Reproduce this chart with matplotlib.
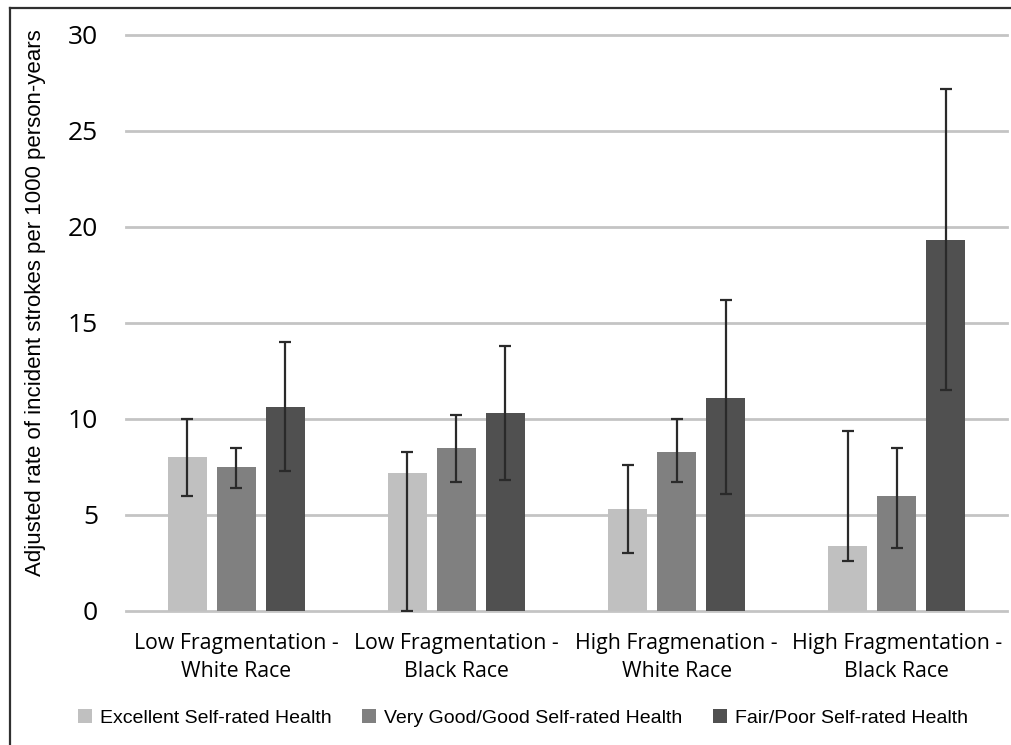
import matplotlib
matplotlib.use("Agg")
import matplotlib.pyplot as plt
from matplotlib.lines import Line2D
import numpy as np

categories = [
    "Low Fragmentation -\nWhite Race",
    "Low Fragmentation -\nBlack Race",
    "High Fragmenation -\nWhite Race",
    "High Fragmentation -\nBlack Race",
]
series_names = [
    "Excellent Self-rated Health",
    "Very Good/Good Self-rated Health",
    "Fair/Poor Self-rated Health",
]
excellent = [8.0, 7.2, 5.3, 3.4]
excellent_lo = [6.0, 0.0, 3.0, 2.6]
excellent_hi = [10.0, 8.3, 7.6, 9.4]
vgood = [7.5, 8.5, 8.3, 6.0]
vgood_lo = [6.4, 6.7, 6.7, 3.3]
vgood_hi = [8.5, 10.2, 10.0, 8.5]
fair = [10.6, 10.3, 11.1, 19.3]
fair_lo = [7.3, 6.8, 6.1, 11.5]
fair_hi = [14.0, 13.8, 16.2, 27.2]
yticks = [0, 5, 10, 15, 20, 25, 30]

colors = ["#c0c0c0", "#808080", "#505050"]
label_font = ["Open Sans", "DejaVu Sans"]
narrow_font = ["Liberation Sans Narrow", "Liberation Sans", "DejaVu Sans"]

fig = plt.figure(figsize=(10.11, 7.45), dpi=100)
ax = fig.add_axes([126 / 1011, 1 - 611 / 745, 881 / 1011, 576 / 745])

x = np.arange(len(categories))
step, width = 0.222, 0.177
data = [
    (excellent, excellent_lo, excellent_hi),
    (vgood, vgood_lo, vgood_hi),
    (fair, fair_lo, fair_hi),
]
for i, (vals, lo, hi) in enumerate(data):
    vals = np.array(vals)
    err = [vals - np.array(lo), np.array(hi) - vals]
    ax.bar(x + (i - 1) * step, vals, width, color=colors[i], zorder=2,
           label=series_names[i])
    ax.errorbar(x + (i - 1) * step, vals, yerr=err, fmt="none",
                ecolor="#2a2a2a", elinewidth=1.6, capsize=4, capthick=1.6,
                zorder=3)

ax.set_xlim(-0.5, 3.5)
ax.set_ylim(0, 30)
ax.set_yticks(yticks)
ax.set_yticklabels([str(t) for t in yticks], family=label_font, fontsize=19)
ax.set_xticks(x)
ax.set_xticklabels(categories, family=label_font, fontsize=15.3, linespacing=1.4)
ax.tick_params(axis="y", length=0, pad=20)
ax.tick_params(axis="x", length=0, pad=16)
for s in ax.spines.values():
    s.set_visible(False)
ax.grid(axis="y", color="#c4c4c4", linewidth=2, zorder=0)
for gl in ax.get_ygridlines():
    gl.set_clip_on(False)
ax.set_axisbelow(True)

fig.text(36 / 1011, 1 - 303 / 745,
         "Adjusted rate of incident strokes per 1000 person-years",
         rotation=90, ha="center", va="center", family=narrow_font, fontsize=16)

fig.legend(loc="center", bbox_to_anchor=(523 / 1011, 1 - 718 / 745), ncol=3,
           frameon=False, prop={"family": narrow_font, "size": 14},
           handlelength=0.7, handleheight=0.7, handletextpad=0.4,
           columnspacing=1.6)

# partial frame around the chart (top and left edges)
fig.add_artist(Line2D([9.5 / 1011, 1], [1 - 7.5 / 745] * 2, color="#303030",
                      linewidth=1.6, transform=fig.transFigure))
fig.add_artist(Line2D([9.5 / 1011] * 2, [0, 1 - 7.5 / 745], color="#303030",
                      linewidth=1.6, transform=fig.transFigure))

fig.savefig("out.png", dpi=100)
